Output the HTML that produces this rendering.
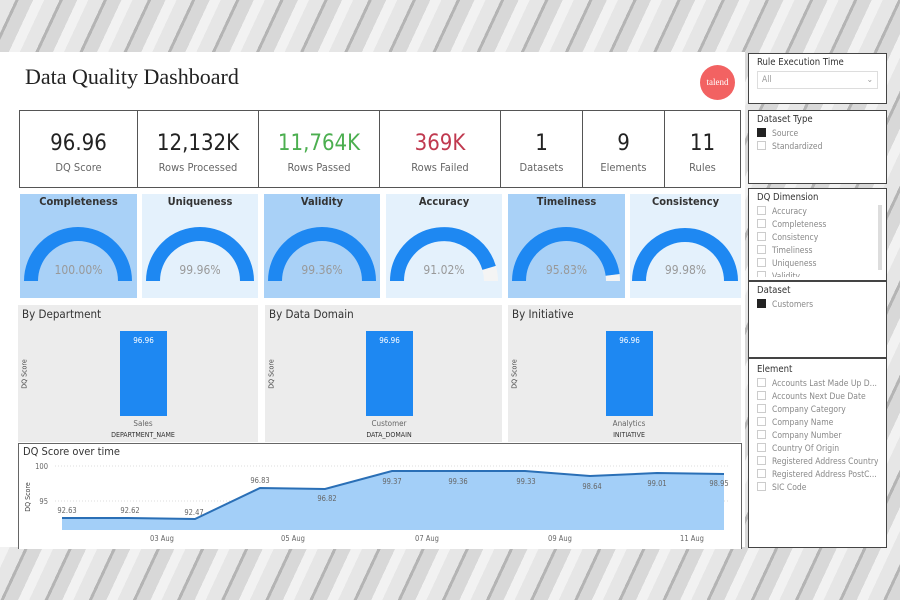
<!DOCTYPE html>
<html><head><meta charset="utf-8"><style>
*{margin:0;padding:0;box-sizing:border-box}
body{width:900px;height:600px;position:relative;overflow:hidden;font-family:"DejaVu Sans Condensed","Liberation Sans",sans-serif;background:repeating-linear-gradient(115deg,#e6e6e6 0 14px,#b4b4b4 14px 17px,#d8d8d8 17px 30px,#f2f2f2 30px 40px)}
.a{position:absolute}
.main{left:0;top:52px;width:745px;height:495px;background:#fff}
.kpi{top:110px;height:78px;border:1.5px solid #555;background:#fff;text-align:center}
.kpi .v{font-size:22px;color:#222;margin-top:20px;line-height:26px}
.kpi .l{font-size:11px;color:#666;margin-top:4px}
.g{top:194px;height:104px;text-align:center}
.g .t{font-size:11px;font-weight:bold;color:#333;margin-top:1px}
.g .p{position:absolute;left:0;width:100%;top:69px;font-size:12px;color:#999}
.dk{background:#a9d1f7}.lt{background:#e4f1fc}
.panel{top:305px;height:137px;background:#ececec}
.panel .h{font-size:11.5px;color:#333;position:absolute;left:4px;top:2px}
.panel .bar{position:absolute;top:26px;height:85px;width:47px;background:#1e88f2;color:#fff;font-size:8px;text-align:center;padding-top:5px}
.panel .yl{position:absolute;left:-8px;top:65px;font-size:7px;transform:rotate(-90deg);color:#444}
.panel .c{position:absolute;top:114px;font-size:8px;color:#666;width:100px;text-align:center}
.panel .f{position:absolute;top:126px;font-size:7px;color:#333;width:100px;text-align:center}
.sl{left:748px;width:139px;background:#fff;border:1.5px solid #444;padding:3px 8px;font-size:9px;color:#333}
.sl .h{font-size:9.5px;margin-bottom:3px}
.it{color:#888;font-size:8.5px;height:13px;line-height:13px;white-space:nowrap;overflow:hidden}
.it i{display:inline-block;width:9px;height:9px;border:1px solid #ccc;margin-right:6px;vertical-align:-1px}
.it i.on{background:#222;border-color:#222}
</style></head><body>
<div class="a main"></div>
<div class="a" style="left:25px;top:64px;font-family:'Liberation Serif',serif;font-size:22px;color:#222">Data Quality Dashboard</div>
<div class="a" style="left:700px;top:65px;width:35px;height:35px;border-radius:50%;background:#f26262;color:#fff;font-family:'Liberation Serif',serif;font-size:9px;line-height:35px;text-align:center">talend</div>

<div class="a kpi" style="left:19px;width:119px"><div class="v">96.96</div><div class="l">DQ Score</div></div>
<div class="a kpi" style="left:137px;width:122px"><div class="v">12,132K</div><div class="l">Rows Processed</div></div>
<div class="a kpi" style="left:258px;width:122px"><div class="v" style="color:#4caf50">11,764K</div><div class="l">Rows Passed</div></div>
<div class="a kpi" style="left:379px;width:122px"><div class="v" style="color:#c0394f">369K</div><div class="l">Rows Failed</div></div>
<div class="a kpi" style="left:500px;width:83px"><div class="v">1</div><div class="l">Datasets</div></div>
<div class="a kpi" style="left:582px;width:83px"><div class="v">9</div><div class="l">Elements</div></div>
<div class="a kpi" style="left:664px;width:77px"><div class="v">11</div><div class="l">Rules</div></div>

<div class="a g dk" style="left:20px;width:117px"><div class="t">Completeness</div><svg class="a" style="left:0;top:0" width="117" height="104"><path d="M11 87A47 47 0 0 1 105 87" fill="none" stroke="#1e88f2" stroke-width="14"/></svg><div class="p">100.00%</div></div>
<div class="a g lt" style="left:142px;width:116px"><div class="t">Uniqueness</div><svg class="a" style="left:0;top:0" width="116" height="104"><path d="M11 87A47 47 0 0 1 105 87" fill="none" stroke="#1e88f2" stroke-width="14"/></svg><div class="p">99.96%</div></div>
<div class="a g dk" style="left:264px;width:116px"><div class="t">Validity</div><svg class="a" style="left:0;top:0" width="116" height="104"><path d="M11 87A47 47 0 0 1 105 87" fill="none" stroke="#1e88f2" stroke-width="14"/></svg><div class="p">99.36%</div></div>
<div class="a g lt" style="left:386px;width:116px"><div class="t">Accuracy</div><svg class="a" style="left:0;top:0" width="116" height="104"><path d="M103.1 73.9A47 47 0 0 1 105 87" fill="none" stroke="#f4f4f4" stroke-width="14"/><path d="M11 87A47 47 0 0 1 103.1 73.9" fill="none" stroke="#1e88f2" stroke-width="14"/></svg><div class="p">91.02%</div></div>
<div class="a g dk" style="left:508px;width:117px"><div class="t">Timeliness</div><svg class="a" style="left:0;top:0" width="117" height="104"><path d="M104.6 80.9A47 47 0 0 1 105 87" fill="none" stroke="#f4f4f4" stroke-width="14"/><path d="M11 87A47 47 0 0 1 104.6 80.9" fill="none" stroke="#1e88f2" stroke-width="14"/></svg><div class="p">95.83%</div></div>
<div class="a g lt" style="left:630px;width:111px"><div class="t">Consistency</div><svg class="a" style="left:0;top:0" width="111" height="104"><path d="M9 87A46 46 0 0 1 101 87" fill="none" stroke="#1e88f2" stroke-width="14"/></svg><div class="p">99.98%</div></div>

<div class="a panel" style="left:18px;width:240px"><div class="h">By Department</div><div class="yl">DQ Score</div><div class="bar" style="left:102px">96.96</div><div class="c" style="left:75px">Sales</div><div class="f" style="left:75px">DEPARTMENT_NAME</div></div>
<div class="a panel" style="left:265px;width:237px"><div class="h">By Data Domain</div><div class="yl">DQ Score</div><div class="bar" style="left:101px">96.96</div><div class="c" style="left:74px">Customer</div><div class="f" style="left:74px">DATA_DOMAIN</div></div>
<div class="a panel" style="left:508px;width:233px"><div class="h">By Initiative</div><div class="yl">DQ Score</div><div class="bar" style="left:98px">96.96</div><div class="c" style="left:71px">Analytics</div><div class="f" style="left:71px">INITIATIVE</div></div>

<div class="a" style="left:18px;top:443px;width:724px;height:106px;border:1.5px solid #666;border-bottom:none;background:#fff"></div>
<svg class="a" style="left:0;top:0" width="900" height="600" font-family="DejaVu Sans Condensed,Liberation Sans,sans-serif">
<text x="23" y="455" font-size="11" fill="#333">DQ Score over time</text>
<line x1="55" y1="466" x2="730" y2="466" stroke="#ddd" stroke-dasharray="1 2"/>
<line x1="55" y1="501" x2="730" y2="501" stroke="#ddd" stroke-dasharray="1 2"/>
<text x="48" y="469" font-size="7.5" fill="#666" text-anchor="end">100</text>
<text x="48" y="504" font-size="7.5" fill="#666" text-anchor="end">95</text>
<text x="30" y="497" font-size="7" fill="#444" transform="rotate(-90 30 497)" text-anchor="middle">DQ Score</text>
<path d="M62 518L128 518L195 519L260 488L325 489L392 471L458 471L525 471L590 476L657 473L724 474L724 530L62 530Z" fill="#a3cff8"/>
<path d="M62 518L128 518L195 519L260 488L325 489L392 471L458 471L525 471L590 476L657 473L724 474" fill="none" stroke="#2a6fb6" stroke-width="2"/>
<g font-size="7.5" fill="#666" text-anchor="middle">
<text x="67" y="513">92.63</text><text x="130" y="513">92.62</text><text x="194" y="515">92.47</text><text x="260" y="483">96.83</text><text x="327" y="501">96.82</text><text x="392" y="484">99.37</text><text x="458" y="484">99.36</text><text x="526" y="484">99.33</text><text x="592" y="489">98.64</text><text x="657" y="486">99.01</text><text x="719" y="486">98.95</text>
<text x="162" y="541">03 Aug</text><text x="293" y="541">05 Aug</text><text x="427" y="541">07 Aug</text><text x="560" y="541">09 Aug</text><text x="692" y="541">11 Aug</text>
</g></svg>

<div class="a sl" style="top:53px;height:51px"><div class="h">Rule Execution Time</div><div style="border:1px solid #ddd;height:18px;color:#999;font-size:8.5px;padding:3px 4px">All<span style="float:right">&#8964;</span></div></div>
<div class="a sl" style="top:110px;height:74px"><div class="h">Dataset Type</div><div class="it"><i class="on"></i>Source</div><div class="it"><i></i>Standardized</div></div>
<div class="a sl" style="top:188px;height:93px"><div class="h">DQ Dimension</div><div class="it"><i></i>Accuracy</div><div class="it"><i></i>Completeness</div><div class="it"><i></i>Consistency</div><div class="it"><i></i>Timeliness</div><div class="it"><i></i>Uniqueness</div><div class="it" style="height:6px"><i></i>Validity</div><div class="a" style="left:129px;top:16px;width:4px;height:65px;background:#ddd"></div></div>
<div class="a sl" style="top:281px;height:77px"><div class="h">Dataset</div><div class="it"><i class="on"></i>Customers</div></div>
<div class="a sl" style="top:358px;height:190px"><div class="h" style="margin-top:2px">Element</div><div class="it"><i></i>Accounts Last Made Up D...</div><div class="it"><i></i>Accounts Next Due Date</div><div class="it"><i></i>Company Category</div><div class="it"><i></i>Company Name</div><div class="it"><i></i>Company Number</div><div class="it"><i></i>Country Of Origin</div><div class="it"><i></i>Registered Address Country</div><div class="it"><i></i>Registered Address PostC...</div><div class="it"><i></i>SIC Code</div></div>
</body></html>
